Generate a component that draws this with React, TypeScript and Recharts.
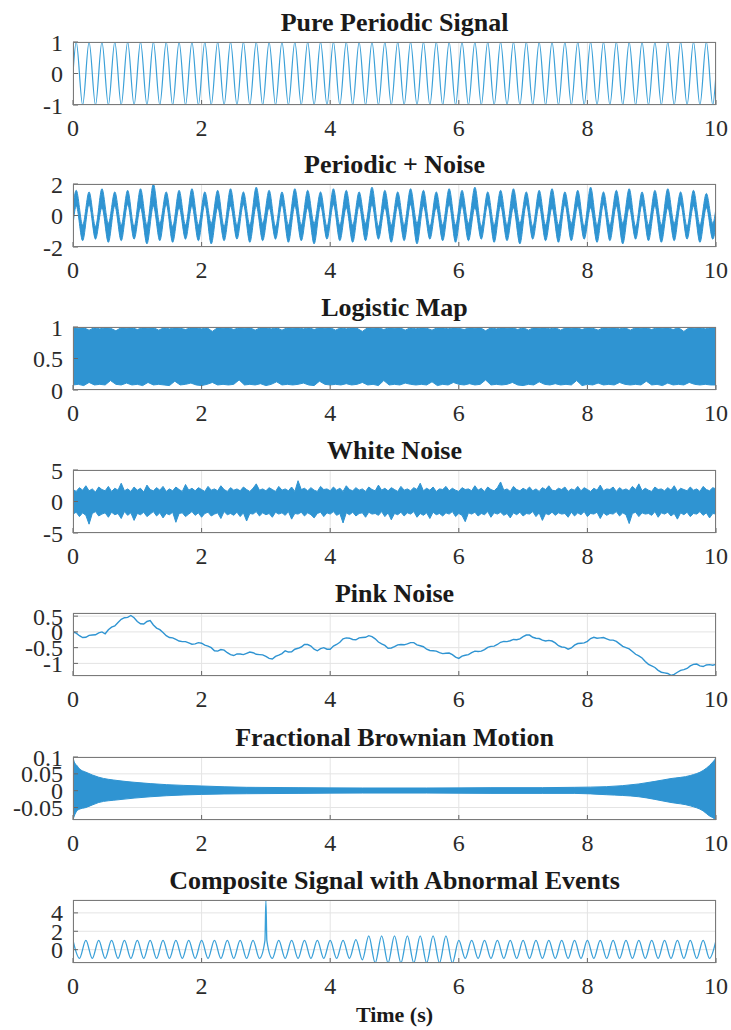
import React from 'react';
import { ComposedChart, Line, Area, XAxis, YAxis, CartesianGrid } from 'recharts';

const BLUE = '#2f94d2';
const SERIF = '"Liberation Serif", "Times New Roman", Times, serif';

const timeTicks = [0, 2, 4, 6, 8, 10];

// 1. pure periodic signal, value at every half-cycle extremum (5 Hz)
const pureValues = [
  0,
  1, -1, 1, -1, 1, -1, 1, -1, 1, -1,
  1, -1, 1, -1, 1, -1, 1, -1, 1, -1,
  1, -1, 1, -1, 1, -1, 1, -1, 1, -1,
  1, -1, 1, -1, 1, -1, 1, -1, 1, -1,
  1, -1, 1, -1, 1, -1, 1, -1, 1, -1,
  1, -1, 1, -1, 1, -1, 1, -1, 1, -1,
  1, -1, 1, -1, 1, -1, 1, -1, 1, -1,
  1, -1, 1, -1, 1, -1, 1, -1, 1, -1,
  1, -1, 1, -1, 1, -1, 1, -1, 1, -1,
  1, -1, 1, -1, 1, -1, 1, -1, 1, -1,
  0,
];

// 2. periodic + noise: top and bottom edge of the noisy band at each extremum
const noisyUpper = [
  0.6,
  1.6, -0.6, 1.5, -0.7, 1.7, -0.5, 1.5, -0.6, 1.6, -0.7, 1.7, -0.6, 2.0, -0.5, 1.5, -0.7, 1.6, -0.6, 1.7, -0.6,
  1.5, -0.5, 1.6, -0.7, 1.7, -0.6, 1.5, -0.6, 1.8, -0.5, 1.6, -0.7, 1.5, -0.6, 1.7, -0.6, 1.6, -0.5, 1.5, -0.7,
  1.7, -0.6, 1.6, -0.6, 1.5, -0.5, 1.8, -0.7, 1.6, -0.6, 1.5, -0.6, 1.7, -0.5, 1.6, -0.7, 1.5, -0.6, 1.7, -0.6,
  1.6, -0.5, 1.8, -0.7, 1.5, -0.6, 1.6, -0.6, 1.7, -0.5, 1.5, -0.7, 1.6, -0.6, 1.7, -0.6, 1.5, -0.5, 1.6, -0.7,
  1.8, -0.6, 1.5, -0.6, 1.6, -0.5, 1.7, -0.7, 1.5, -0.6, 1.6, -0.6, 1.7, -0.5, 1.5, -0.7, 1.6, -0.6, 1.4, -0.5,
  0.5,
];
const noisyLower = [
  -0.6,
  0.6, -1.6, 0.7, -1.5, 0.5, -1.7, 0.6, -1.6, 0.7, -1.5, 0.5, -1.8, 0.6, -1.6, 0.7, -1.7, 0.5, -1.5, 0.6, -1.6,
  0.7, -1.8, 0.5, -1.6, 0.6, -1.5, 0.7, -1.7, 0.6, -1.6, 0.5, -1.5, 0.7, -1.7, 0.6, -1.6, 0.5, -1.8, 0.6, -1.5,
  0.7, -1.6, 0.5, -1.7, 0.6, -1.6, 0.7, -1.5, 0.5, -1.7, 0.6, -1.6, 0.7, -1.8, 0.6, -1.5, 0.5, -1.6, 0.7, -1.7,
  0.6, -1.6, 0.5, -1.5, 0.7, -1.7, 0.6, -1.6, 0.5, -1.8, 0.7, -1.5, 0.6, -1.6, 0.5, -1.7, 0.7, -1.6, 0.6, -1.5,
  0.5, -1.7, 0.7, -1.6, 0.6, -1.8, 0.5, -1.5, 0.7, -1.6, 0.6, -1.7, 0.5, -1.6, 0.7, -1.5, 0.6, -1.7, 0.5, -1.5,
  -0.6,
];

// 3. logistic map: top / bottom edge of the filled band, every 1/12 s
const logisticTop = [
  0.99, 0.98, 0.99, 0.95, 0.99, 0.97, 0.99, 0.98, 0.94, 0.99,
  0.98, 0.99, 0.96, 0.99, 0.98, 0.99, 0.95, 0.99, 0.97, 0.99,
  0.98, 0.96, 0.99, 0.99, 0.97, 0.99, 0.93, 0.99, 0.98, 0.99,
  0.96, 0.99, 0.98, 0.99, 0.95, 0.99, 0.99, 0.97, 0.99, 0.95,
  0.99, 0.98, 0.99, 0.97, 0.99, 0.96, 0.99, 0.98, 0.99, 0.95,
  0.99, 0.97, 0.99, 0.98, 0.93, 0.99, 0.98, 0.99, 0.96, 0.99,
  0.98, 0.99, 0.95, 0.99, 0.97, 0.99, 0.98, 0.95, 0.99, 0.99,
  0.97, 0.99, 0.98, 0.96, 0.99, 0.98, 0.99, 0.94, 0.99, 0.97,
  0.99, 0.98, 0.99, 0.96, 0.99, 0.95, 0.99, 0.98, 0.99, 0.97,
  0.99, 0.95, 0.99, 0.98, 0.99, 0.96, 0.99, 0.98, 0.95, 0.99,
  0.98, 0.99, 0.97, 0.99, 0.95, 0.99, 0.98, 0.99, 0.96, 0.99,
  0.98, 0.99, 0.96, 0.99, 0.93, 0.99, 0.98, 0.99, 0.97, 0.99,
  0.99,
];
const logisticBottom = [
  0.08, 0.09, 0.07, 0.12, 0.08, 0.09, 0.08, 0.15, 0.09, 0.08,
  0.11, 0.08, 0.09, 0.07, 0.12, 0.08, 0.09, 0.08, 0.07, 0.14,
  0.08, 0.09, 0.11, 0.08, 0.07, 0.09, 0.12, 0.08, 0.09, 0.08,
  0.09, 0.16, 0.08, 0.09, 0.08, 0.1, 0.07, 0.09, 0.13, 0.08,
  0.09, 0.08, 0.09, 0.11, 0.08, 0.07, 0.14, 0.09, 0.08, 0.09,
  0.08, 0.1, 0.08, 0.09, 0.12, 0.08, 0.09, 0.07, 0.15, 0.08,
  0.09, 0.08, 0.11, 0.09, 0.08, 0.09, 0.08, 0.13, 0.07, 0.09,
  0.08, 0.12, 0.09, 0.08, 0.1, 0.08, 0.09, 0.16, 0.08, 0.09,
  0.08, 0.09, 0.12, 0.08, 0.07, 0.09, 0.08, 0.13, 0.09, 0.08,
  0.1, 0.08, 0.09, 0.08, 0.15, 0.07, 0.09, 0.08, 0.11, 0.08,
  0.09, 0.08, 0.12, 0.09, 0.08, 0.09, 0.08, 0.14, 0.08, 0.09,
  0.07, 0.11, 0.08, 0.09, 0.08, 0.12, 0.09, 0.08, 0.09, 0.08,
  0.08,
];

// 4. white noise: top / bottom edge, every 0.05 s
const whiteTop = [
  1.9, 1.6, 2.2, 1.8, 2.5, 1.7, 2.0, 1.5, 2.3, 1.9,
  1.7, 2.4, 1.6, 2.1, 1.8, 2.9, 1.7, 2.0, 1.6, 2.3,
  1.8, 2.1, 1.5, 2.6, 1.9, 1.7, 2.2, 1.8, 2.4, 1.6,
  2.0, 1.7, 2.3, 1.9, 1.6, 2.7, 1.8, 2.1, 1.7, 2.2,
  1.9, 1.6, 2.4, 1.8, 2.0, 1.7, 2.5, 1.9, 1.6, 2.2,
  1.8, 2.0, 1.7, 2.3, 1.9, 1.6, 2.1, 2.8, 1.8, 2.0,
  1.7, 2.2, 1.9, 1.6, 2.4, 1.8, 2.0, 1.7, 2.3, 1.6,
  3.3, 1.9, 2.1, 1.7, 2.2, 1.8, 1.6, 2.4, 1.9, 2.0,
  1.7, 2.3, 1.8, 2.1, 1.6, 2.5, 1.9, 1.7, 2.2, 1.8,
  2.0, 1.6, 2.3, 1.9, 1.7, 2.6, 1.8, 2.1, 1.7, 2.2,
  1.9, 1.6, 2.4, 1.8, 2.0, 1.7, 2.2, 1.9, 2.9, 1.7,
  2.1, 1.8, 2.3, 1.6, 2.0, 1.9, 2.4, 1.7, 2.1, 1.8,
  1.6, 2.2, 1.9, 2.0, 1.7, 2.5, 1.8, 2.1, 1.6, 2.3,
  1.9, 1.7, 2.2, 3.1, 1.8, 2.0, 1.6, 2.4, 1.9, 1.7,
  2.1, 1.8, 2.3, 1.7, 2.0, 1.6, 2.2, 1.9, 2.5, 1.8,
  1.7, 2.1, 1.9, 2.3, 1.6, 2.0, 1.8, 2.4, 1.7, 2.2,
  1.9, 1.6, 2.1, 1.8, 2.6, 1.7, 2.0, 1.9, 2.3, 1.6,
  2.2, 1.8, 2.0, 1.7, 2.4, 1.9, 2.8, 1.7, 2.1, 1.8,
  1.6, 2.3, 1.9, 2.0, 1.7, 2.2, 1.8, 2.5, 1.6, 2.1,
  1.9, 1.7, 2.3, 1.8, 2.0, 1.6, 2.4, 1.9, 1.7, 2.2,
  2.0,
];
const whiteBottom = [
  -2.0, -1.7, -2.4, -1.8, -2.2, -3.6, -1.9, -1.6, -2.3, -2.0,
  -1.8, -2.5, -1.7, -2.1, -1.9, -2.7, -1.6, -2.2, -1.8, -3.0,
  -1.9, -2.1, -1.7, -2.4, -2.0, -1.6, -2.3, -1.8, -2.6, -1.9,
  -2.1, -1.7, -3.3, -1.9, -1.8, -2.4, -2.0, -1.6, -2.2, -1.8,
  -2.5, -1.9, -1.7, -2.3, -2.0, -1.8, -2.7, -1.6, -2.1, -1.9,
  -2.2, -1.7, -2.4, -1.8, -3.1, -1.9, -2.0, -1.6, -2.3, -1.8,
  -2.1, -1.9, -2.5, -1.7, -2.0, -1.8, -2.2, -1.6, -2.8, -1.9,
  -2.0, -1.7, -2.3, -1.8, -2.1, -2.6, -1.9, -1.7, -2.4, -1.8,
  -2.0, -1.6, -2.2, -1.9, -3.4, -1.8, -2.1, -1.7, -2.3, -1.9,
  -1.8, -2.5, -1.7, -2.0, -1.9, -2.2, -1.6, -2.4, -1.8, -2.9,
  -1.9, -2.1, -1.7, -2.3, -1.8, -2.0, -1.6, -2.5, -1.9, -2.2,
  -1.8, -2.7, -1.7, -2.1, -1.9, -2.3, -1.8, -2.0, -1.6, -2.4,
  -1.9, -2.2, -3.2, -1.8, -2.0, -1.7, -2.3, -1.9, -2.1, -1.6,
  -2.5, -1.8, -2.0, -1.7, -2.2, -1.9, -2.6, -1.8, -2.1, -1.7,
  -2.3, -1.9, -2.0, -1.6, -2.4, -1.8, -3.0, -1.9, -2.1, -1.7,
  -2.2, -1.8, -2.0, -1.9, -2.5, -1.7, -2.3, -1.8, -2.1, -1.6,
  -2.4, -1.9, -2.0, -1.7, -2.7, -1.8, -2.2, -1.9, -2.0, -1.6,
  -2.3, -1.8, -2.1, -3.5, -1.9, -1.7, -2.4, -1.8, -2.0, -1.9,
  -2.2, -1.6, -2.5, -1.8, -2.0, -1.7, -2.3, -1.9, -2.8, -1.8,
  -2.1, -1.7, -2.4, -1.9, -2.0, -1.6, -2.2, -1.8, -2.6, -1.9,
  -2.0,
];

// 5. pink noise, every 0.05 s
const pinkValues = [
  0.0, -0.04, -0.12, -0.18, -0.17, -0.11, -0.1, -0.09, -0.03, 0.0,
  -0.06, 0.07, 0.15, 0.19, 0.3, 0.4, 0.45, 0.46, 0.52, 0.45,
  0.33, 0.26, 0.25, 0.33, 0.36, 0.22, 0.12, 0.07, -0.02, -0.12,
  -0.18, -0.19, -0.24, -0.29, -0.31, -0.31, -0.35, -0.39, -0.38, -0.34,
  -0.36, -0.42, -0.45, -0.5, -0.6, -0.61, -0.56, -0.58, -0.66, -0.72,
  -0.75, -0.7, -0.7, -0.72, -0.68, -0.64, -0.66, -0.71, -0.72, -0.73,
  -0.78, -0.84, -0.86, -0.78, -0.74, -0.69, -0.6, -0.64, -0.63, -0.55,
  -0.52, -0.48, -0.4, -0.4, -0.45, -0.55, -0.6, -0.53, -0.5, -0.55,
  -0.55, -0.45, -0.4, -0.33, -0.22, -0.19, -0.2, -0.24, -0.25, -0.19,
  -0.18, -0.17, -0.12, -0.15, -0.22, -0.32, -0.38, -0.43, -0.52, -0.51,
  -0.47, -0.41, -0.4, -0.41, -0.38, -0.34, -0.34, -0.41, -0.44, -0.47,
  -0.55, -0.59, -0.6, -0.61, -0.66, -0.69, -0.68, -0.67, -0.72, -0.8,
  -0.84, -0.77, -0.74, -0.72, -0.66, -0.61, -0.62, -0.61, -0.56, -0.49,
  -0.46, -0.45, -0.4, -0.33, -0.3, -0.31, -0.28, -0.24, -0.25, -0.22,
  -0.15, -0.1, -0.1, -0.17, -0.2, -0.21, -0.26, -0.29, -0.27, -0.29,
  -0.35, -0.44, -0.48, -0.49, -0.55, -0.51, -0.42, -0.37, -0.36, -0.35,
  -0.3, -0.21, -0.17, -0.2, -0.19, -0.18, -0.22, -0.26, -0.26, -0.3,
  -0.38, -0.46, -0.5, -0.54, -0.62, -0.71, -0.76, -0.83, -0.94, -1.03,
  -1.08, -1.13, -1.22, -1.28, -1.3, -1.32, -1.38, -1.35, -1.28, -1.22,
  -1.2, -1.16, -1.08, -1.03, -1.02, -1.08, -1.1, -1.05, -1.04, -1.06,
  -1.03,
];

// 6. fractional Brownian motion: envelope of the dense oscillation
const fbmTimes = [0, 0.02, 0.06, 0.1, 0.2, 0.4, 0.7, 0.95, 1.45, 2, 2.7, 3.5, 4.5, 5.5, 6.5, 7.3, 7.8, 8.3, 8.8, 9.3, 9.6, 9.8, 9.9, 9.95, 9.98, 10];
const fbmTop = [0.1, 0.085, 0.075, 0.065, 0.055, 0.04, 0.03, 0.025, 0.018, 0.014, 0.01, 0.009, 0.008, 0.008, 0.009, 0.009, 0.01, 0.012, 0.02, 0.036, 0.045, 0.06, 0.075, 0.085, 0.092, 0.1];
const fbmBottom = [-0.086, -0.075, -0.06, -0.055, -0.05, -0.035, -0.027, -0.022, -0.015, -0.011, -0.009, -0.008, -0.007, -0.007, -0.008, -0.008, -0.008, -0.012, -0.018, -0.035, -0.045, -0.06, -0.075, -0.08, -0.084, -0.086];

// 7. composite signal, extrema every 0.1 s, plus the spike at 3 s
const compositeValues = [
  1, -0.95, 1, -0.95, 1, -0.95, 1, -0.95, 1, -0.95,
  1, -0.95, 1, -0.95, 1, -0.95, 1, -0.95, 1, -0.95,
  1, -0.95, 1, -0.95, 1, -0.95, 1, -0.95, 1, -0.95,
  1, -0.95, 1, -0.95, 1, -0.95, 1, -0.95, 1, -0.95,
  1, -0.95, 1, -0.95, 1.1, -1.1, 1.5, -1.45, 1.5, -1.45,
  1.5, -1.45, 1.5, -1.45, 1.5, -1.45, 1.5, -1.45, 1.5, -1.45,
  1, -0.95, 1, -0.95, 1, -0.95, 1, -0.95, 1, -0.95,
  1, -0.95, 1, -0.95, 1, -0.95, 1, -0.95, 1, -0.95,
  1, -0.95, 1, -0.95, 1, -0.95, 1, -0.95, 1, -0.95,
  1, -0.95, 1, -0.95, 1, -0.95, 1, -0.95, 1, -0.95,
  1,
];
const spikeTimes = [2.985, 3, 3.015];
const spikeValues = [0.98, 5.4, 0.98];

const evenTimes = (n: number) =>
  Array.from({ length: n }, (_, i) => Math.round(((i * 10) / (n - 1)) * 10000) / 10000);
const halfCycleTimes = (n: number) =>
  Array.from({ length: n }, (_, i) =>
    i === 0 ? 0 : i === n - 1 ? 10 : Math.round((0.05 + (i - 1) * 0.1) * 1000) / 1000
  );

const pureData = halfCycleTimes(pureValues.length).map((t, i) => ({ t, v: pureValues[i] }));
const noisyData = halfCycleTimes(noisyUpper.length).map((t, i) => ({ t, r: [noisyLower[i], noisyUpper[i]] }));
const logisticData = evenTimes(logisticTop.length).map((t, i) => ({ t, r: [logisticBottom[i], logisticTop[i]] }));
const whiteData = evenTimes(whiteTop.length).map((t, i) => ({ t, r: [whiteBottom[i], whiteTop[i]] }));
const pinkData = evenTimes(pinkValues.length).map((t, i) => ({ t, v: pinkValues[i] }));
const fbmData = fbmTimes.map((t, i) => ({ t, r: [fbmBottom[i], fbmTop[i]] }));
const compositeData = [
  ...evenTimes(compositeValues.length)
    .map((t, i) => ({ t, v: compositeValues[i] }))
    .filter((p) => p.t < spikeTimes[0] || p.t > spikeTimes[spikeTimes.length - 1]),
  ...spikeTimes.map((t, i) => ({ t, v: spikeValues[i] })),
].sort((a, b) => a.t - b.t);

const tickStyle = { fill: '#2b2b2b', fontSize: 24, fontFamily: SERIF };

interface PanelProps {
  title: string;
  top: number;
  domain: [number, number];
  ticks: number[];
  data: object[];
  children: React.ReactNode;
}

function Panel({ title, top, domain, ticks, data, children }: PanelProps) {
  return (
    <>
      <div
        style={{
          position: 'absolute',
          left: 73,
          width: 643,
          top: top - 34,
          textAlign: 'center',
          fontFamily: SERIF,
          fontWeight: 'bold',
          fontSize: 26,
          lineHeight: '30px',
          color: '#1a1a1a',
          whiteSpace: 'nowrap',
        }}
      >
        {title}
      </div>
      <div style={{ position: 'absolute', left: 0, top: top - 20 }}>
        <ComposedChart width={731} height={128} data={data} margin={{ top: 20, right: 15, bottom: 0, left: 0 }}>
          <CartesianGrid stroke="#e4e4e4" />
          <XAxis
            dataKey="t"
            type="number"
            domain={[0, 10]}
            ticks={timeTicks}
            interval={0}
            allowDataOverflow
            height={45}
            axisLine={false}
            tickLine={{ stroke: '#666' }}
            tickSize={-5}
            tickMargin={19}
            tick={tickStyle}
          />
          <YAxis
            type="number"
            domain={domain}
            ticks={ticks}
            interval={0}
            allowDataOverflow
            width={73}
            axisLine={false}
            tickLine={{ stroke: '#666' }}
            tickSize={-5}
            tickMargin={15}
            tick={tickStyle}
          />
          {children}
        </ComposedChart>
      </div>
      <div
        style={{
          position: 'absolute',
          left: 73,
          top,
          width: 643,
          height: 63,
          border: '1px solid #7a7a7a',
          boxSizing: 'border-box',
          pointerEvents: 'none',
        }}
      />
    </>
  );
}

export default function App() {
  return (
    <div style={{ position: 'absolute', left: 0, top: 0, width: 731, height: 1030, background: '#fff' }}>
      <Panel title="Pure Periodic Signal" top={42} domain={[-1, 1]} ticks={[-1, 0, 1]} data={pureData}>
        <Line dataKey="v" type="monotone" stroke="#3aa0d8" strokeWidth={1.2} dot={false} activeDot={false} isAnimationActive={false} />
      </Panel>
      <Panel title="Periodic + Noise" top={184} domain={[-2, 2]} ticks={[-2, 0, 2]} data={noisyData}>
        <Area dataKey="r" type="monotone" stroke={BLUE} strokeWidth={1} fill={BLUE} fillOpacity={1} dot={false} activeDot={false} isAnimationActive={false} />
      </Panel>
      <Panel title="Logistic Map" top={327} domain={[0, 1]} ticks={[0, 0.5, 1]} data={logisticData}>
        <Area dataKey="r" type="linear" stroke={BLUE} strokeWidth={1} fill={BLUE} fillOpacity={1} dot={false} activeDot={false} isAnimationActive={false} />
      </Panel>
      <Panel title="White Noise" top={470} domain={[-5, 5]} ticks={[-5, 0, 5]} data={whiteData}>
        <Area dataKey="r" type="linear" stroke={BLUE} strokeWidth={1} fill={BLUE} fillOpacity={1} dot={false} activeDot={false} isAnimationActive={false} />
      </Panel>
      <Panel title="Pink Noise" top={613} domain={[-1.4, 0.6]} ticks={[-1, -0.5, 0, 0.5]} data={pinkData}>
        <Line dataKey="v" type="linear" stroke={BLUE} strokeWidth={1.4} dot={false} activeDot={false} isAnimationActive={false} />
      </Panel>
      <Panel title="Fractional Brownian Motion" top={757} domain={[-0.087, 0.1]} ticks={[-0.05, 0, 0.05, 0.1]} data={fbmData}>
        <Area dataKey="r" type="monotone" stroke={BLUE} strokeWidth={1} fill={BLUE} fillOpacity={1} dot={false} activeDot={false} isAnimationActive={false} />
      </Panel>
      <Panel title="Composite Signal with Abnormal Events" top={900} domain={[-1.45, 5.4]} ticks={[0, 2, 4]} data={compositeData}>
        <Line dataKey="v" type="monotone" stroke="#3aa0d8" strokeWidth={1.3} dot={false} activeDot={false} isAnimationActive={false} />
      </Panel>
      <div
        style={{
          position: 'absolute',
          left: 73,
          width: 643,
          top: 1002,
          textAlign: 'center',
          fontFamily: SERIF,
          fontWeight: 'bold',
          fontSize: 22,
          lineHeight: '26px',
          color: '#1a1a1a',
        }}
      >
        Time (s)
      </div>
    </div>
  );
}
